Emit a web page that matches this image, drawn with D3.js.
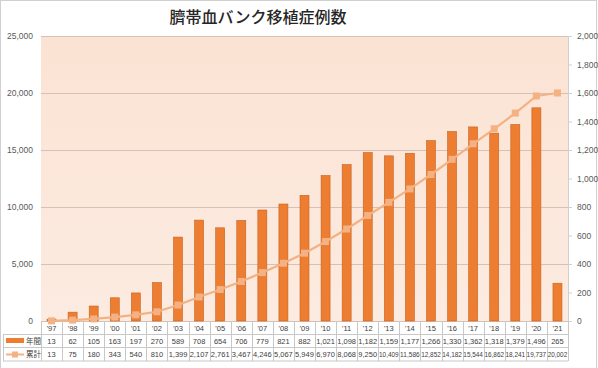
<!DOCTYPE html>
<html><head><meta charset="utf-8">
<script src="https://cdn.jsdelivr.net/npm/d3@7"></script>
<style>
html,body{margin:0;padding:0;background:#fff;}
svg{display:block;font-family:"Noto Sans CJK JP","Noto Sans",sans-serif;}
</style></head>
<body><svg id="c" width="598" height="368"></svg>
<script>
const categories = ["'97","'98","'99","'00","'01","'02","'03","'04","'05","'06","'07","'08","'09","'10","'11","'12","'13","'14","'15","'16","'17","'18","'19","'20","'21"];
const annual = [13,62,105,163,197,270,589,708,654,706,779,821,882,1021,1098,1182,1159,1177,1266,1330,1362,1318,1379,1496,265];
const cumulative = [13,75,180,343,540,810,1399,2107,2761,3467,4246,5067,5949,6970,8068,9250,10409,11586,12852,14182,15544,16862,18241,19737,20002];
const leftTicks = [0,5000,10000,15000,20000,25000];
const rightTicks = [0,200,400,600,800,1000,1200,1400,1600,1800,2000];
const seriesNames = ["年間","累計"];
const title = "臍帯血バンク移植症例数";

const svg = d3.select("#c");
const L = 41, R = 568, T = 36, B = 321;
const fmt = d3.format(",");

// outer frame
svg.append("rect").attr("x",0.5).attr("y",0.5).attr("width",596).attr("height",380)
  .attr("fill","none").attr("stroke","#d0d0d0");

const defs = svg.append("defs");
const grad = defs.append("linearGradient").attr("id","bg").attr("x1",0).attr("y1",0).attr("x2",0).attr("y2",1);
grad.append("stop").attr("offset","0%").attr("stop-color","#fbe3d3");
grad.append("stop").attr("offset","100%").attr("stop-color","#fcebe1");

svg.append("rect").attr("x",L).attr("y",T).attr("width",R-L).attr("height",B-T).attr("fill","url(#bg)");

const x = d3.scaleBand().domain(categories).range([L,R]);
const yL = d3.scaleLinear().domain([0,25000]).range([B,T]);
const yR = d3.scaleLinear().domain([0,2000]).range([B,T]);

// gridlines
svg.append("g").selectAll("line").data(leftTicks).join("line")
  .attr("x1",L).attr("x2",R).attr("y1",d=>Math.round(yL(d))+0.5).attr("y2",d=>Math.round(yL(d))+0.5)
  .attr("stroke","#d5c1b5").attr("stroke-width",1);

// left axis labels
const gl = svg.append("g").attr("transform",`translate(${L},0)`)
  .call(d3.axisLeft(yL).tickValues(leftTicks).tickFormat(fmt).tickSize(0).tickPadding(8));
gl.select(".domain").remove();
gl.selectAll("text").attr("font-size",8.5).attr("fill","#595959").attr("font-family","Liberation Sans, Arial, sans-serif");

// right axis
const gr = svg.append("g").attr("transform",`translate(${R},0)`)
  .call(d3.axisRight(yR).tickValues(rightTicks).tickFormat(fmt).tickSize(4).tickPadding(5));
gr.select(".domain").attr("stroke","#d0d0d0");
gr.selectAll(".tick line").attr("stroke","#d0d0d0");
gr.selectAll("text").attr("font-size",8.5).attr("fill","#595959").attr("font-family","Liberation Sans, Arial, sans-serif");

// bars (annual, right scale)
const bw = 9;
svg.append("g").selectAll("rect").data(annual).join("rect")
  .attr("x",(d,i)=>x(categories[i])+x.bandwidth()/2-bw/2)
  .attr("y",d=>yR(d)).attr("width",bw).attr("height",d=>B-yR(d))
  .attr("fill","#ed7d31").attr("stroke","#c9621f").attr("stroke-width",0.6);

// cumulative line (left scale)
const line = d3.line().x((d,i)=>x(categories[i])+x.bandwidth()/2).y(d=>yL(d));
svg.append("path").datum(cumulative).attr("d",line).attr("fill","none")
  .attr("stroke","#f4b183").attr("stroke-width",2.2);
svg.append("g").selectAll("rect").data(cumulative).join("rect")
  .attr("x",(d,i)=>x(categories[i])+x.bandwidth()/2-3.5).attr("y",d=>yL(d)-3.5)
  .attr("width",7).attr("height",7).attr("fill","#f4b183");

// title
svg.append("text").attr("x",258).attr("y",23).attr("text-anchor","middle")
  .attr("font-size",16).attr("font-weight",500).attr("fill","#262626").text(title);

// data table
const rowH = [321,334,347.5,361];
const tbl = svg.append("g");
const gridC = "#c8c8c8";
// horizontal lines
tbl.append("line").attr("x1",3).attr("x2",R).attr("y1",rowH[1]+0.5).attr("y2",rowH[1]+0.5).attr("stroke",gridC);
tbl.append("line").attr("x1",3).attr("x2",R).attr("y1",rowH[2]).attr("y2",rowH[2]).attr("stroke",gridC);
tbl.append("line").attr("x1",3).attr("x2",R).attr("y1",rowH[3]).attr("y2",rowH[3]).attr("stroke",gridC);
// vertical lines
const vx = categories.map(c=>x(c)).concat([R]);
tbl.selectAll("line.v").data(vx).join("line").attr("class","v")
  .attr("x1",d=>Math.round(d)+0.5).attr("x2",d=>Math.round(d)+0.5)
  .attr("y1",rowH[0]).attr("y2",rowH[3]).attr("stroke",gridC);
tbl.append("line").attr("x1",3.5).attr("x2",3.5).attr("y1",rowH[1]).attr("y2",rowH[3]).attr("stroke",gridC);

const tf = "Liberation Sans, Arial, sans-serif";
tbl.selectAll("text.cat").data(categories).join("text").attr("class","cat")
  .attr("x",d=>x(d)+x.bandwidth()/2).attr("y",330.5).attr("text-anchor","middle")
  .attr("font-size",7.5).attr("font-family",tf).attr("fill","#404040").text(d=>d);
function rowText(vals,y){
  tbl.append("g").selectAll("text").data(vals).join("text")
    .attr("x",(d,i)=>x(categories[i])+x.bandwidth()/2).attr("y",y).attr("text-anchor","middle")
    .attr("font-size",7.5).attr("font-family",tf).attr("fill","#404040")
    .each(function(d){
      const s = fmt(d); d3.select(this).text(s);
      if (s.length>=6) d3.select(this).attr("textLength",x.bandwidth()-1.5).attr("lengthAdjust","spacingAndGlyphs");
    });
}
rowText(annual,343.5);
rowText(cumulative,357);

// legend keys
tbl.append("rect").attr("x",6).attr("y",338).attr("width",18).attr("height",5).attr("fill","#ed7d31");
tbl.append("line").attr("x1",6).attr("x2",24).attr("y1",354.5).attr("y2",354.5).attr("stroke","#f4b183").attr("stroke-width",2);
tbl.append("rect").attr("x",12).attr("y",351.5).attr("width",6).attr("height",6).attr("fill","#f4b183");
tbl.append("text").attr("x",26).attr("y",343.5).attr("font-size",7.5).attr("fill","#404040").text(seriesNames[0]);
tbl.append("text").attr("x",26).attr("y",357).attr("font-size",7.5).attr("fill","#404040").text(seriesNames[1]);
</script></body></html>
